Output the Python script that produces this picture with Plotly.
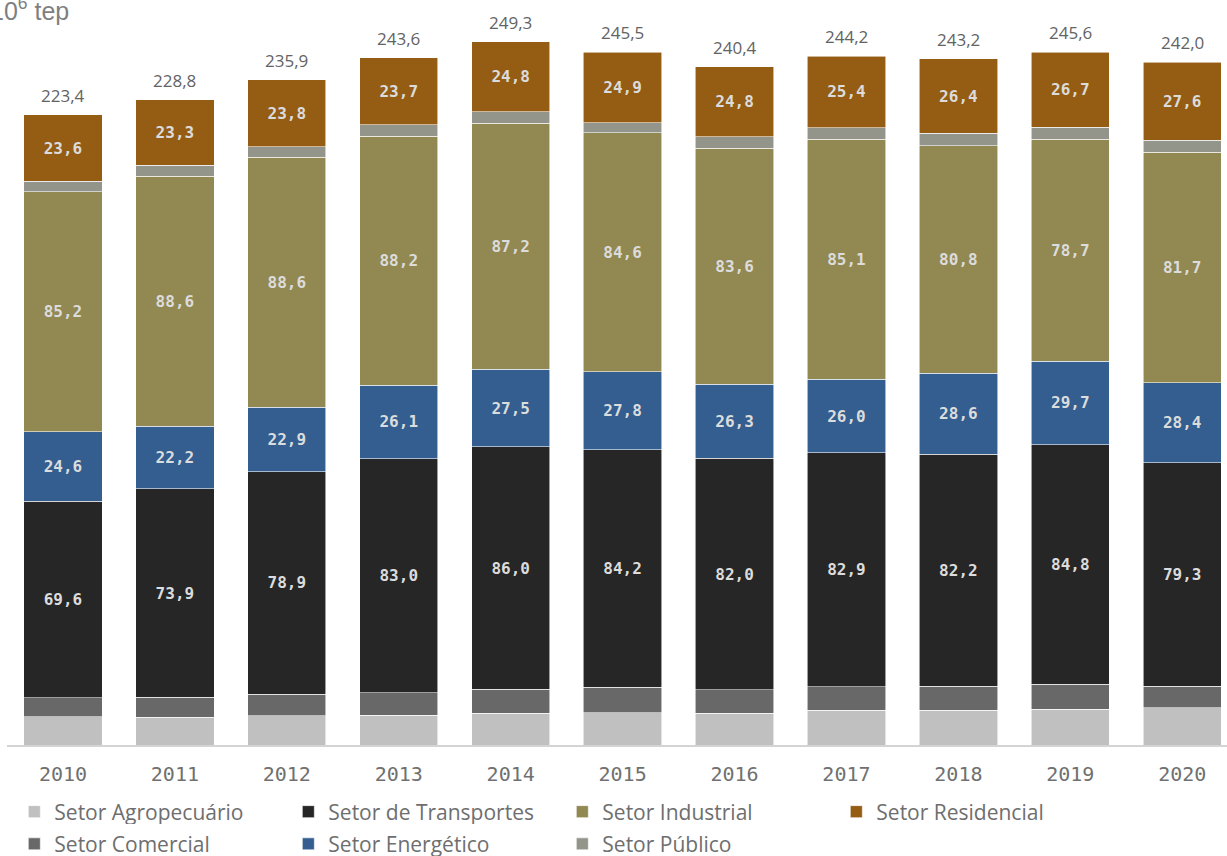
import plotly.graph_objects as go

years = ["2010", "2011", "2012", "2013", "2014", "2015", "2016", "2017", "2018", "2019", "2020"]

agropecuario = [10.0, 9.9, 10.4, 10.6, 11.2, 11.5, 11.2, 12.3, 12.3, 12.7, 13.2]
comercial = [6.8, 7.0, 7.6, 7.9, 8.5, 8.9, 8.4, 8.4, 8.6, 8.9, 7.6]
transportes = [69.6, 73.9, 78.9, 83.0, 86.0, 84.2, 82.0, 82.9, 82.2, 84.8, 79.3]
energetico = [24.6, 22.2, 22.9, 26.1, 27.5, 27.8, 26.3, 26.0, 28.6, 29.7, 28.4]
industrial = [85.2, 88.6, 88.6, 88.2, 87.2, 84.6, 83.6, 85.1, 80.8, 78.7, 81.7]
publico = [3.6, 3.9, 3.7, 4.1, 4.1, 3.6, 4.1, 4.1, 4.3, 4.1, 4.2]
residencial = [23.6, 23.3, 23.8, 23.7, 24.8, 24.9, 24.8, 25.4, 26.4, 26.7, 27.6]
totais = [223.4, 228.8, 235.9, 243.6, 249.3, 245.5, 240.4, 244.2, 243.2, 245.6, 242.0]


def br(v):
    return f"{v:.1f}".replace(".", ",")


# stacking order bottom -> top; legend row and rank inside the row
series = [
    ("Setor Agropecuário", agropecuario, "#c0c0c0", False, "legend", 1),
    ("Setor Comercial", comercial, "#686868", False, "legend2", 1),
    ("Setor de Transportes", transportes, "#262626", True, "legend", 2),
    ("Setor Energético", energetico, "#335e8f", True, "legend2", 2),
    ("Setor Industrial", industrial, "#928852", True, "legend", 3),
    ("Setor Público", publico, "#93958a", False, "legend2", 3),
    ("Setor Residencial", residencial, "#955c14", True, "legend", 4),
]

fig = go.Figure()

for name, vals, color, labelled, leg, rank in series:
    fig.add_trace(go.Bar(
        x=years,
        y=vals,
        name=name,
        legend=leg,
        legendrank=rank,
        marker=dict(color=color, line=dict(color="rgba(255,255,255,0.7)", width=0.8)),
        text=[br(v) for v in vals] if labelled else None,
        textposition="inside" if labelled else "none",
        insidetextanchor="middle",
        textangle=0,
        textfont=dict(family="DejaVu Sans Mono", size=16, color="#dcdcdc", weight="bold"),
        hoverinfo="x+y+name",
    ))

# totals above each bar (category index on the x axis)
for i, tot in enumerate(totais):
    fig.add_annotation(
        x=i, y=tot, text=br(tot),
        showarrow=False, yanchor="bottom", yshift=6,
        font=dict(family="Open Sans", size=17, color="#636363"),
    )

fig.add_annotation(
    text="10<sup>6</sup> tep",
    xref="paper", yref="paper",
    x=-0.0152, y=1.0,
    xanchor="left", yanchor="bottom",
    yshift=-7,
    showarrow=False,
    font=dict(family="Liberation Sans", size=25, color="#7f7f7f"),
)

legend_style = dict(
    orientation="h",
    traceorder="normal",
    x=0.006, xanchor="left",
    yanchor="middle",
    entrywidth=229,
    entrywidthmode="pixels",
    font=dict(family="Open Sans", size=21, color="#6e6e6e"),
    itemwidth=30,
)

# figure is a bit taller than the window: the lowest legend row is cut like the original
fig.update_layout(
    barmode="stack",
    bargap=0.3,
    width=1227,
    height=880,
    autosize=False,
    margin=dict(l=7, r=0, t=20, b=135),
    plot_bgcolor="white",
    paper_bgcolor="white",
    uniformtext=dict(mode="show", minsize=10),
    legend=dict(legend_style, y=-0.0924),
    legend2=dict(legend_style, y=-0.1368),
    xaxis=dict(
        type="category",
        range=[-0.5, 10.4],
        showgrid=False,
        showline=True,
        linecolor="#d4d4d4",
        linewidth=2,
        ticks="",
        tickfont=dict(family="DejaVu Sans Mono", size=20, color="#707070"),
        ticklabelstandoff=10,
    ),
    yaxis=dict(
        range=[0, 257],
        visible=False,
        showgrid=False,
    ),
)

fig.write_html(
    "out.html",
    config={"responsive": False, "displayModeBar": False},
    post_script="document.body.style.margin='0';document.body.style.overflow='hidden';",
)
